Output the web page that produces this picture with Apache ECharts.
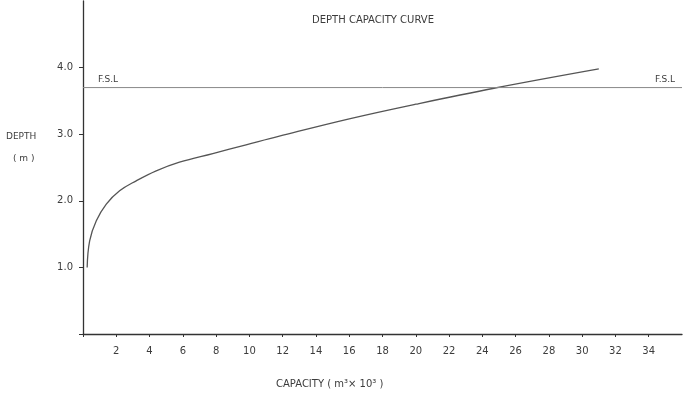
<!DOCTYPE html>
<html>
<head>
<meta charset="utf-8">
<script src="https://cdn.jsdelivr.net/npm/echarts@6/dist/echarts.min.js"></script>
<style>html,body{margin:0;padding:0;background:#fff}#c{width:696px;height:405px}</style>
</head>
<body>
<div id="c"></div>
<script>
const capacity = [0.25, 0.4, 0.8, 1.4, 2.2, 3.2, 4.4, 5.8, 7.8, 9.8, 11.8, 16, 20, 24.7, 31];
const depth    = [1.0, 1.4, 1.7, 1.95, 2.15, 2.3, 2.45, 2.58, 2.71, 2.84, 2.97, 3.23, 3.45, 3.69, 3.98];
const fslLevel = 3.7;
const fslExtent = [0, 36];
const xTicks = [0,2,4,6,8,10,12,14,16,18,20,22,24,26,28,30,32,34];
const xLabels = [2,4,6,8,10,12,14,16,18,20,22,24,26,28,30,32,34];
const yTicks = [0,1,2,3,4];
const yLabels = [1,2,3,4];

const font = '"DejaVu Sans",sans-serif';
const txt = '#3c3c3c';
const chart = echarts.init(document.getElementById('c'));
chart.setOption({
  animation: false,
  title: {
    text: 'DEPTH CAPACITY CURVE', left: 368, top: 10, textAlign: 'center',
    textStyle: {fontFamily: font, fontSize: 10, fontWeight: 'normal', color: txt}
  },
  grid: {left: 83, right: 14, top: 1, bottom: 71},
  xAxis: {
    type: 'value', min: 0, max: 36, interval: 2,
    axisLine: {lineStyle: {color: '#333', width: 1.3}},
    axisTick: {customValues: xTicks, length: 3, lineStyle: {color: '#333'}},
    axisLabel: {customValues: xLabels, fontFamily: font, fontSize: 10, color: txt, margin: 12},
    splitLine: {show: false}
  },
  yAxis: {
    type: 'value', min: 0, max: 5, interval: 1,
    axisLine: {show: true, lineStyle: {color: '#333', width: 1.3}},
    axisTick: {show: true, customValues: yTicks, length: 4, lineStyle: {color: '#333'}},
    axisLabel: {customValues: yLabels, fontFamily: font, fontSize: 10, color: txt, margin: 10,
      formatter: v => v.toFixed(1)},
    splitLine: {show: false}
  },
  graphic: [
    {type: 'text', left: 6, top: 132, style: {text: 'DEPTH', fontFamily: font, fontSize: 9, fill: txt}},
    {type: 'text', left: 13, top: 154, style: {text: '( m )', fontFamily: font, fontSize: 9, fill: txt}},
    {type: 'text', left: 276, top: 379, style: {text: 'CAPACITY ( m³× 10³ )', fontFamily: font, fontSize: 10, fill: txt}}
  ],
  series: [
    {
      type: 'line', smooth: 0.4, symbol: 'none',
      data: capacity.map((c, i) => [c, depth[i]]),
      lineStyle: {color: '#555', width: 1.3}
    },
    {
      type: 'line', symbol: 'circle', symbolSize: 2, showSymbol: true,
      itemStyle: {color: 'rgba(0,0,0,0)'},
      data: [
        {value: [fslExtent[0], fslLevel], label: {show: true, position: [26, -2], align: 'center', verticalAlign: 'bottom', formatter: 'F.S.L'}},
        {value: [fslExtent[1], fslLevel], label: {show: true, position: [-16, -2], align: 'center', verticalAlign: 'bottom', formatter: 'F.S.L'}}
      ],
      label: {show: true, fontFamily: font, fontSize: 9, color: txt},
      labelLayout: {hideOverlap: false},
      lineStyle: {color: '#888', width: 1}
    }
  ]
});
</script>
</body>
</html>
